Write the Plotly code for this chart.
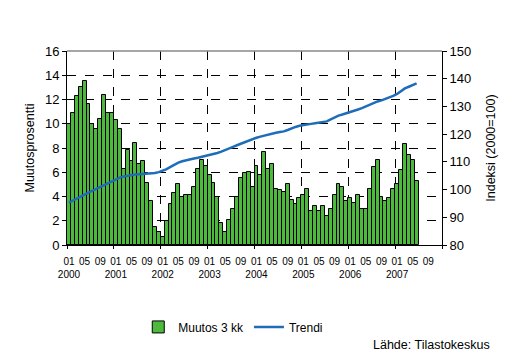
import plotly.graph_objects as go

# Monthly data 2000-01 .. 2007-06
muutos = [10.0, 10.9, 12.25, 13.0, 13.5, 11.6, 9.95, 9.6, 10.4, 12.4, 10.85, 10.9,
          10.3, 9.6, 6.3, 7.8, 6.9, 8.4, 6.65, 6.9, 5.15, 3.65, 1.5, 1.1,
          0.65, 1.95, 3.35, 4.25, 5.0, 4.0, 4.15, 4.1, 4.75, 6.25, 7.0, 6.5,
          5.8, 5.15, 4.0, 1.85, 1.1, 2.1, 3.0, 4.0, 5.5, 5.9, 6.0, 4.75,
          6.5, 5.8, 7.65, 6.3, 6.65, 4.6, 4.55, 4.35, 5.0, 3.7, 3.35, 3.9,
          4.1, 4.6, 2.8, 3.25, 2.8, 3.2, 2.4, 3.0, 4.1, 5.0, 4.75, 3.6,
          3.85, 3.5, 4.15, 2.95, 2.95, 4.65, 6.4, 7.0, 4.0, 3.6, 3.9, 4.65,
          5.0, 6.15, 8.3, 7.45, 7.05, 5.3]
trendi = [95.3, 96.1, 96.8, 97.5, 98.2, 98.9, 99.6, 100.3, 101.0, 101.7, 102.4, 103.1,
          103.8, 104.3, 104.7, 105.0, 105.3, 105.4, 105.5, 105.6, 105.7, 105.8, 106.0, 106.3,
          106.8, 107.4, 108.2, 109.0, 109.7, 110.2, 110.6, 110.9, 111.2, 111.5, 111.8, 112.1,
          112.4, 112.8, 113.2, 113.7, 114.2, 114.8, 115.4, 116.0, 116.6, 117.1, 117.6, 118.2,
          118.7, 119.1, 119.5, 119.9, 120.2, 120.5, 120.8, 121.0, 121.5, 122.1, 122.6, 123.0,
          123.3, 123.5, 123.7, 123.9, 124.1, 124.3, 124.6, 125.3, 126.0, 126.7, 127.1, 127.5,
          127.9, 128.4, 128.9, 129.4, 130.0, 130.7, 131.3, 131.8, 132.2, 132.7, 133.1, 133.8,
          134.5, 135.5, 136.5, 137.1, 137.7, 138.3]
years = ["2000", "2001", "2002", "2003", "2004", "2005", "2006", "2007"]
months_shown = ["01", "05", "09"]

x = list(range(len(muutos)))
tickvals, ticktext = [], []
for yi, yr in enumerate(years):
    for mi, m in enumerate(months_shown):
        tickvals.append(yi * 12 + mi * 4)
        ticktext.append(m + "<br>" + yr if m == "01" else m + "<br> ")
year_bounds = [yi * 12 - 0.5 for yi in range(len(years) + 1)]

FONT = "Liberation Sans, Arial, sans-serif"
fig = go.Figure()
fig.add_trace(go.Bar(x=x, y=muutos, name="Muutos 3 kk",
                     marker=dict(color="#4DBA3D", line=dict(color="black", width=1)),
                     yaxis="y", xaxis="x"))
fig.add_trace(go.Scatter(x=x, y=trendi, name="Trendi", mode="lines",
                         line=dict(color="#1F6DB8", width=2.5), yaxis="y2", xaxis="x"))
# invisible trace carrying the month-label axis
fig.add_trace(go.Scatter(x=[-0.5, 95.5], y=[0, 0], mode="markers", marker=dict(opacity=0),
                         showlegend=False, hoverinfo="skip", xaxis="x2", yaxis="y"))

fig.update_layout(
    width=512, height=352,
    margin=dict(l=67, r=70, t=51, b=106),
    paper_bgcolor="white", plot_bgcolor="white",
    bargap=0,
    font=dict(family=FONT, size=12, color="black"),
    showlegend=True,
    legend=dict(orientation="h", x=0.19, xanchor="left", y=-0.415, yanchor="middle",
                font=dict(size=12), itemwidth=30, tracegroupgap=0,
                bgcolor="rgba(0,0,0,0)"),
    xaxis=dict(range=[-0.5, 95.5], tickmode="array", tickvals=year_bounds, showticklabels=False,
               showgrid=True, gridcolor="black", griddash="dash", gridwidth=1,
               ticks="outside", ticklen=3, tickcolor="black",
               showline=True, linecolor="black", linewidth=1, zeroline=False),
    xaxis2=dict(range=[-0.5, 95.5], overlaying="x", side="bottom", anchor="y",
                tickmode="array", tickvals=tickvals, ticktext=ticktext, tickangle=0,
                tickfont=dict(size=10), showgrid=False, ticks="", showline=False,
                zeroline=False, ticklabelstandoff=9),
    yaxis=dict(range=[0, 16], dtick=2, showgrid=True, gridcolor="black", griddash="dash",
               gridwidth=1, ticks="outside", ticklen=4, tickcolor="black", showline=True,
               linecolor="black", linewidth=1, zeroline=False, tickfont=dict(size=13)),
    yaxis2=dict(range=[80, 150], dtick=10, overlaying="y", side="right", anchor="x",
                showgrid=False, ticks="outside", ticklen=4, tickcolor="black", showline=True,
                linecolor="black", linewidth=1, zeroline=False, tickfont=dict(size=13)),
    shapes=[dict(type="line", xref="paper", yref="paper", x0=0, x1=1, y0=1, y1=1,
                 line=dict(color="#888888", width=1.5))],
    annotations=[
        dict(text="Muutosprosentti", xref="paper", yref="paper", x=-0.1, y=0.5,
             textangle=-90, showarrow=False, font=dict(size=12.5), xanchor="center", yanchor="middle"),
        dict(text="Indeksi (2000=100)", xref="paper", yref="paper", x=1.13, y=0.5,
             textangle=-90, showarrow=False, font=dict(size=12.5), xanchor="center", yanchor="middle"),
        dict(text="Lähde: Tilastokeskus", xref="paper", yref="paper", x=1.133, y=-0.515,
             showarrow=False, font=dict(size=12.5), xanchor="right", yanchor="middle"),
    ],
)
fig.write_html("out.html")
